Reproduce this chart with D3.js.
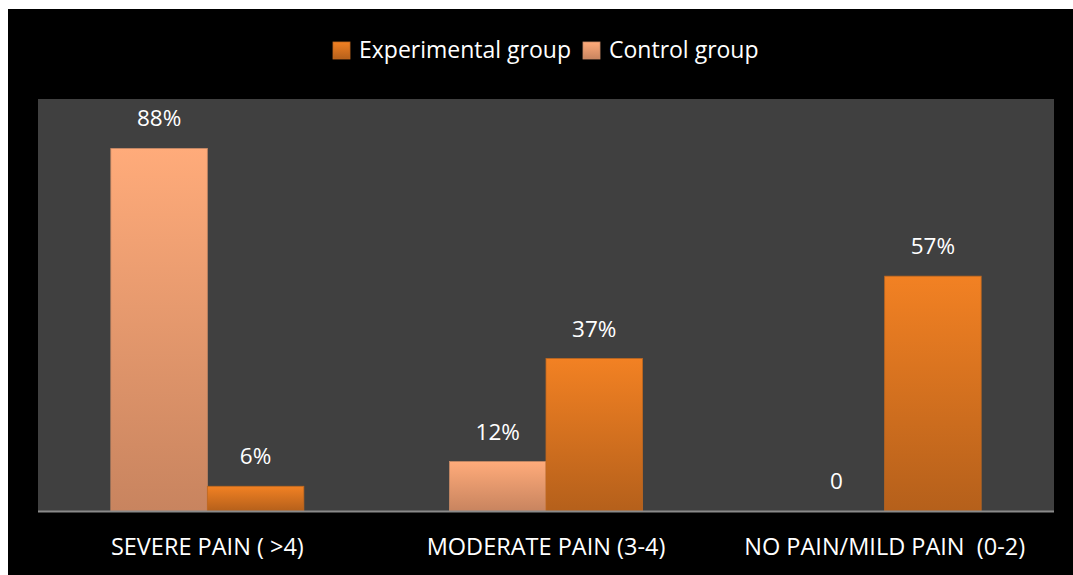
<!DOCTYPE html>
<html>
<head>
<meta charset="utf-8">
<script src="https://cdn.jsdelivr.net/npm/d3@7"></script>
<style>
  html, body { margin: 0; padding: 0; background: #fff; }
  svg { display: block; }
  text { font-family: "Open Sans", "DejaVu Sans", sans-serif; fill: #fff; white-space: pre; }
</style>
</head>
<body>
<div id="chart"></div>
<script>
// data
const categories = ["SEVERE PAIN ( >4)", "MODERATE PAIN (3-4)", "NO PAIN/MILD PAIN  (0-2)"];
const seriesNames = ["Control group", "Experimental group"];
const legendOrder = ["Experimental group", "Control group"];
const controlValues = [88, 12, 0];
const experimentalValues = [6, 37, 57];
const valueLabels = [["88%", "12%", "0"], ["6%", "37%", "57%"]];

const W = 1073, H = 575;
const plot = { left: 38, right: 1054, top: 99, bottom: 511 };

const svg = d3.select("#chart").append("svg").attr("width", W).attr("height", H);

// white page edge + black slide
svg.append("rect").attr("width", W).attr("height", H).attr("fill", "#fff");
svg.append("rect").attr("x", 8).attr("y", 9).attr("width", W - 8).attr("height", H - 9).attr("fill", "#000");

const defs = svg.append("defs");
const grads = {
  "Control group": ["#ffab7a", "#c8845f"],
  "Experimental group": ["#f28123", "#b5601b"]
};
Object.entries(grads).forEach(([k, c], i) => {
  const g = defs.append("linearGradient").attr("id", "grad" + i).attr("x1", 0).attr("y1", 0).attr("x2", 0).attr("y2", 1);
  g.append("stop").attr("offset", "0%").attr("stop-color", c[0]);
  g.append("stop").attr("offset", "100%").attr("stop-color", c[1]);
});
const fillFor = name => name === "Control group" ? "url(#grad0)" : "url(#grad1)";
const strokeFor = name => name === "Control group" ? "#c98a66" : "#c0681f";

// plot area
svg.append("rect").attr("x", plot.left).attr("y", plot.top).attr("width", plot.right - plot.left).attr("height", plot.bottom - plot.top).attr("fill", "#404040");

const x0 = d3.scaleBand().domain(categories).range([plot.left, plot.right]).paddingInner(0).paddingOuter(0);
const barW = 96.5;
const groupW = barW * 2;
const x1 = d3.scaleBand().domain(seriesNames).range([0, groupW]).padding(0);
const y = d3.scaleLinear().domain([0, 100]).range([plot.bottom, plot.top]);

const data = [];
categories.forEach((c, i) => {
  data.push({ cat: c, series: "Control group", value: controlValues[i], label: valueLabels[0][i] });
  data.push({ cat: c, series: "Experimental group", value: experimentalValues[i], label: valueLabels[1][i] });
});
const bx = d => x0(d.cat) + (x0.bandwidth() - groupW) / 2 + x1(d.series);

svg.selectAll("rect.bar").data(data.filter(d => d.value > 0)).enter().append("rect")
  .attr("class", "bar")
  .attr("x", bx)
  .attr("y", d => y(d.value))
  .attr("width", x1.bandwidth())
  .attr("height", d => y(0) - y(d.value))
  .attr("fill", d => fillFor(d.series))
  .attr("stroke", d => strokeFor(d.series))
  .attr("stroke-width", 0.8);

svg.selectAll("text.val").data(data).enter().append("text")
  .attr("class", "val")
  .attr("x", d => bx(d) + x1.bandwidth() / 2)
  .attr("y", d => y(d.value) - 22)
  .attr("text-anchor", "middle")
  .style("font-size", "22.5px")
  .text(d => d.label);

// axis baseline
svg.append("line").attr("x1", plot.left).attr("x2", plot.right).attr("y1", plot.bottom + 0.5).attr("y2", plot.bottom + 0.5)
  .attr("stroke", "#8a8a8a").attr("stroke-width", 2);

// category labels
const xAxis = d3.axisBottom(x0).tickSize(0).tickPadding(0);
const ax = svg.append("g").attr("transform", `translate(0,${plot.bottom})`).call(xAxis);
ax.select(".domain").remove();
ax.selectAll("text").attr("dy", null).attr("y", 44).attr("fill", "#fff")
  .style("font-size", "23.5px").style("font-family", '"Open Sans", sans-serif').style("white-space", "pre");

// legend
const legend = svg.append("g");
const legendX = [333, 583];
legendOrder.forEach((name, i) => {
  legend.append("rect").attr("x", legendX[i]).attr("y", 42).attr("width", 17).attr("height", 17)
    .attr("fill", fillFor(name)).attr("stroke", strokeFor(name)).attr("stroke-width", 0.8);
  legend.append("text").attr("x", legendX[i] + 26).attr("y", 58).style("font-size", "23px").text(name);
});
</script>
</body>
</html>
